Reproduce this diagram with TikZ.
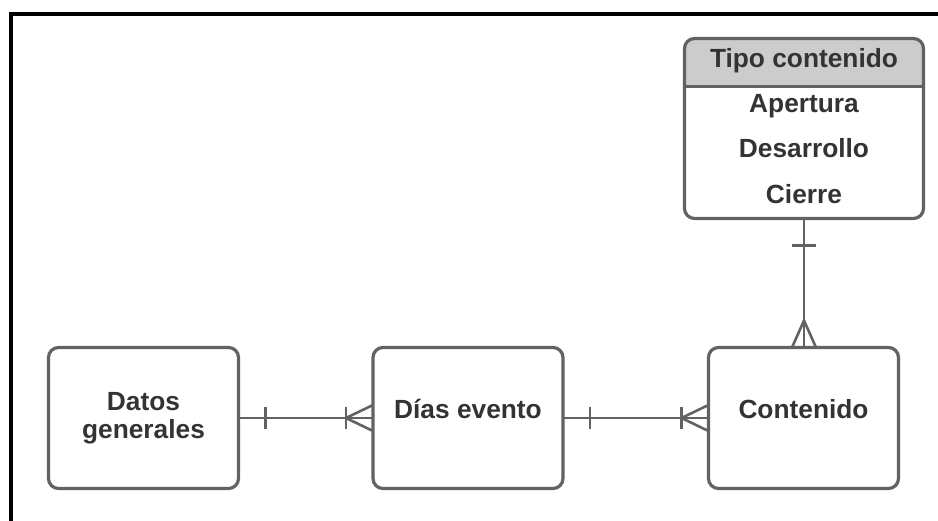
\documentclass[tikz,border=0pt]{standalone}
\usepackage{fontspec}
\setmainfont{Liberation Sans}
\usetikzlibrary{positioning,calc,backgrounds}
\definecolor{linegray}{HTML}{626262}
\definecolor{textgray}{HTML}{333333}
\definecolor{headgray}{HTML}{CCCCCC}

\begin{document}
\begin{tikzpicture}[x=1pt, y=-1pt,
  entity/.style={draw=linegray, line width=3.2pt, rounded corners=10pt, outer sep=0pt,
    minimum width=190pt, minimum height=141pt, align=center, text=textgray,
    font=\bfseries\fontsize{26.3}{28.5}\selectfont},
  oneline/.style={text height=19pt, text depth=17pt},
  field/.style={text=textgray, anchor=base, font=\bfseries\fontsize{26.3}{28.5}\selectfont},
  link/.style={draw=linegray, line width=2.6pt}]
  \useasboundingbox (0,0) rectangle (938,521);
  % frame
  \draw[line width=4pt] (11,521) -- (11,14) -- (938,14);

  % entities
  \node[entity] (datos) at (143.5,418) {Datos\\generales};
  \node[entity, oneline] (dias) at (468,418) {Días evento};
  \node[entity, oneline] (contenido) at (803.5,418) {Contenido};
  \node[entity, minimum width=239pt, minimum height=180pt] (tipo) at (804,128.5) {};
  \coordinate (tipodiv) at (804,87);
  \begin{scope}[on background layer]
    \fill[headgray] (tipo.west |- tipodiv) [rounded corners=10pt] -- (tipo.north west)
      -- (tipo.north east) [sharp corners] -- (tipo.east |- tipodiv) -- cycle;
  \end{scope}
  \draw[link, line width=3pt] (tipo.west |- tipodiv) -- (tipo.east |- tipodiv);
  \node[field] (tipohead) at (804,68) {Tipo contenido};
  \node[field] (apertura) at (804,113) {Apertura};
  \node[field] (desarrollo) at (804,158) {Desarrollo};
  \node[field] (cierre) at (804,203.5) {Cierre};

  % relations
  \path[link]
  (datos) edge (dias)
  (dias) edge (contenido)
  (tipo.south) edge (tipo.south |- contenido.north);
  \foreach \a/\b in {datos/dias, dias/contenido} {
    \draw[link] ($(\a.east)+(27,-11)$) -- ($(\a.east)+(27,11)$);
    \draw[link] ($(\b.west)+(-27,-11)$) -- ($(\b.west)+(-27,11)$);
    \draw[link] ($(\b.west)+(0,-13)$) -- ($(\b.west)+(-27,0)$) -- ($(\b.west)+(0,13)$);
  }
  \draw[link] ($(tipo.south)+(-12,27)$) -- ($(tipo.south)+(12,27)$);
  \draw[link] ($(tipo.south |- contenido.north)+(-12,0)$) -- ($(tipo.south |- contenido.north)+(0,-27)$)
    -- ($(tipo.south |- contenido.north)+(12,0)$);
\end{tikzpicture}
\end{document}
